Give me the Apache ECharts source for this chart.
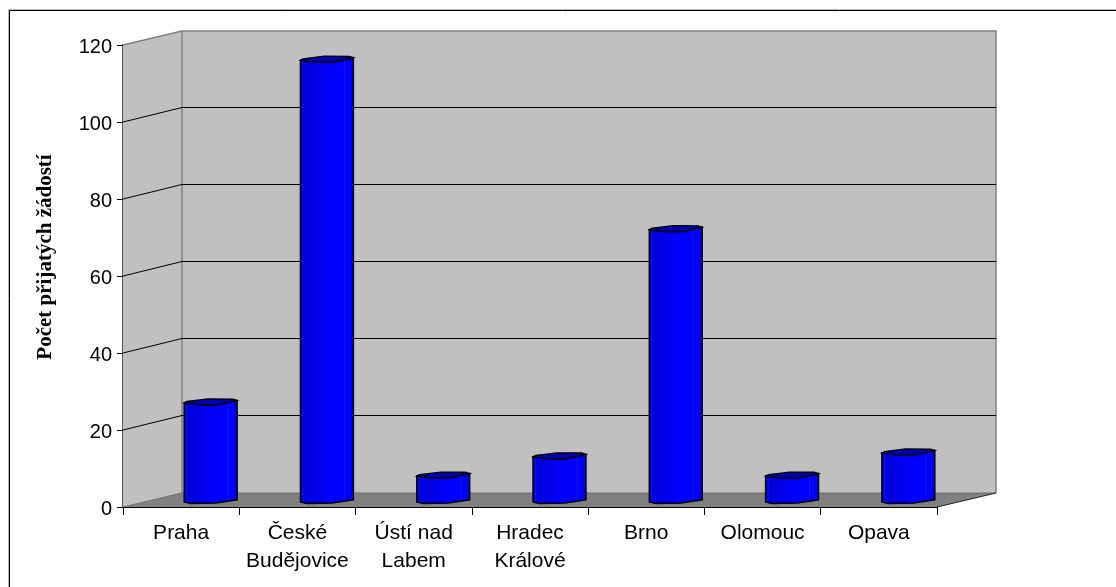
<!DOCTYPE html>
<html>
<head>
<meta charset="utf-8">
<style>html,body{margin:0;padding:0;background:#fff}#chart{width:1116px;height:587px}</style>
<script src="https://cdn.jsdelivr.net/npm/echarts@6/dist/echarts.min.js"></script>
</head>
<body>
<div id="chart"></div>
<script>
// Accepted applications per regional office
const categories = ['Praha', 'České\nBudějovice', 'Ústí nad\nLabem', 'Hradec\nKrálové', 'Brno', 'Olomouc', 'Opava'];
const applications = [26, 115, 7, 12, 71, 7, 13];
const yTicks = [0, 20, 40, 60, 80, 100, 120];
const axisTitle = 'Počet přijatých žádostí';

// Oblique projection used for the pseudo-3D box: how far the back wall shifts
const DEPTH_X = 59;
const DEPTH_Y = -14;
const BAR_RATIO = 0.455;
const BAR_SHIFT_Y = -5;

const chart = echarts.init(document.getElementById('chart'), null, {renderer: 'canvas'});

// Walls and floor of the box
function renderBox(params, api) {
  const cs = params.coordSys;
  const x0 = cs.x, x1 = cs.x + cs.width;
  const yBase = api.coord([0, 0])[1];
  const yTop = api.coord([0, 120])[1];
  return {type: 'group', children: [
    {type: 'polygon', shape: {points: [[x0 + DEPTH_X, yTop + DEPTH_Y], [x1 + DEPTH_X, yTop + DEPTH_Y], [x1 + DEPTH_X, yBase + DEPTH_Y], [x0 + DEPTH_X, yBase + DEPTH_Y]]}, style: {fill: '#c0c0c0'}},
    {type: 'polygon', shape: {points: [[x0, yTop], [x0 + DEPTH_X, yTop + DEPTH_Y], [x0 + DEPTH_X, yBase + DEPTH_Y], [x0, yBase]]}, style: {fill: '#c0c0c0'}},
    {type: 'polygon', shape: {points: [[x0, yBase], [x1, yBase], [x1 + DEPTH_X, yBase + DEPTH_Y], [x0 + DEPTH_X, yBase + DEPTH_Y]]}, style: {fill: '#808080'}},
    {type: 'polyline', shape: {points: [[x0, yTop], [x0 + DEPTH_X, yTop + DEPTH_Y], [x1 + DEPTH_X, yTop + DEPTH_Y], [x1 + DEPTH_X, yBase + DEPTH_Y]]}, style: {fill: 'none', stroke: '#808080', lineWidth: 1.5}},
    {type: 'line', shape: {x1: x0 + DEPTH_X, y1: yTop + DEPTH_Y, x2: x0 + DEPTH_X, y2: yBase + DEPTH_Y}, style: {stroke: '#808080', lineWidth: 1.5}},
    {type: 'polyline', shape: {points: [[x0, yBase], [x0 + DEPTH_X, yBase + DEPTH_Y], [x1 + DEPTH_X, yBase + DEPTH_Y]]}, style: {fill: 'none', stroke: '#6e6e6e', lineWidth: 1}},
    {type: 'line', shape: {x1: x1, y1: yBase, x2: x1 + DEPTH_X, y2: yBase + DEPTH_Y}, style: {stroke: '#222', lineWidth: 1}}
  ]};
}

// Gridline running along the side wall and across the back wall
function renderWallLine(params, api) {
  const cs = params.coordSys;
  const y = Math.round(api.coord([0, api.value(0)])[1]);
  const x0 = cs.x, x1 = cs.x + cs.width;
  return {
    type: 'polyline',
    shape: {points: [[x0, y], [x0 + DEPTH_X, y + DEPTH_Y - 0.5], [x1 + DEPTH_X, y + DEPTH_Y - 0.5]]},
    style: {fill: 'none', stroke: '#000', lineWidth: 1}
  };
}

// Cylinder standing half way into the box
function renderCylinder(params, api) {
  const cat = api.value(0);
  const val = api.value(1);
  const band = api.size([1, 0])[0];
  const cx = api.coord([cat, 0])[0] + DEPTH_X / 2;
  const w = band * BAR_RATIO;
  const l = cx - w / 2, r = cx + w / 2;
  const base = api.coord([cat, 0])[1] + BAR_SHIFT_Y;
  const top = api.coord([cat, val])[1] + BAR_SHIFT_Y;
  const frontTop = [[l, top + 1], [l + w * 0.25, top + 2.6], [l + w * 0.6, top + 3.2], [r, top - 1.5]];
  const backTop = [[r - w * 0.08, top - 2.8], [l + w * 0.45, top - 3], [l + w * 0.3, top - 2], [l + w * 0.05, top - 0.4]];
  const frontBase = [[r, base - 2.2], [l + w * 0.6, base + 1], [l + w * 0.12, base + 1.6], [l, base]];
  const body = frontTop.concat(frontBase);
  return {
    type: 'group',
    children: [
      {type: 'polygon', shape: {points: body}, style: {
        fill: new echarts.graphic.LinearGradient(0, 0, 1, 0, [
          {offset: 0, color: '#0000c8'}, {offset: 0.07, color: '#0000d8'}, {offset: 0.6, color: '#0000ff'}, {offset: 1, color: '#0000f4'}
        ]),
        stroke: '#000', lineWidth: 1.5}},
      {type: 'line', shape: {x1: l + 2.5, y1: top + 3, x2: l + 2.5, y2: base}, style: {stroke: '#2222ff', lineWidth: 1, opacity: 0.5}},
      {type: 'line', shape: {x1: r - 9, y1: top + 1, x2: r - 9, y2: base - 1}, style: {stroke: '#3030ff', lineWidth: 1, opacity: 0.4}},
      {type: 'polygon', shape: {points: frontTop.concat(backTop)}, style: {fill: '#0000b4', stroke: '#000', lineWidth: 1.3}}
    ]
  };
}

chart.setOption({
  animation: false,
  backgroundColor: '#fff',
  grid: {left: 123, width: 814, top: 45, height: 462, containLabel: false},
  xAxis: {
    type: 'category',
    data: categories,
    boundaryGap: true,
    axisLine: {show: true, lineStyle: {color: '#000', width: 1}},
    axisTick: {show: true, alignWithLabel: false, length: 8, lineStyle: {color: '#000'}},
    axisLabel: {color: '#000', fontFamily: 'Liberation Sans', fontSize: 21, lineHeight: 28, margin: 12, interval: 0},
    splitLine: {show: false}
  },
  yAxis: {
    type: 'value',
    min: 0, max: 120, interval: 20,
    name: axisTitle,
    nameLocation: 'middle',
    nameGap: 67,
    nameRotate: 90,
    nameTextStyle: {fontFamily: 'Liberation Serif', fontWeight: 'bold', fontSize: 21, color: '#000', padding: [0, 0, 0, 38]},
    axisLine: {show: true, lineStyle: {color: '#555', width: 2}},
    axisTick: {show: true, length: 6, lineStyle: {color: '#000'}},
    axisLabel: {
      margin: 11,
      formatter: v => '{t|' + v + '}',
      rich: {t: {color: '#000', fontFamily: 'Liberation Sans', fontSize: 20, padding: [4, 0, 0, 0]}}
    },
    splitLine: {show: false}
  },
  graphic: [
    {type: 'polyline', silent: true, z: 100, shape: {points: [[8.5, 587], [8.5, 9.5], [1116, 9.5]]}, style: {fill: 'none', stroke: '#b8b8b8', lineWidth: 1}},
    {type: 'polyline', silent: true, z: 100, shape: {points: [[9.5, 587], [9.5, 10.5], [1116, 10.5]]}, style: {fill: 'none', stroke: '#000', lineWidth: 1}}
  ],
  series: [
    {type: 'custom', renderItem: renderBox, data: [[0, 0]], z: 1, silent: true, clip: false, encode: {x: 0, y: 1}},
    {type: 'custom', renderItem: renderWallLine, data: yTicks.slice(1, -1).map(v => [v]), z: 2, silent: true, clip: false, encode: {y: 0}},
    {type: 'custom', renderItem: renderCylinder, data: applications.map((v, i) => [i, v]), z: 3, clip: false, encode: {x: 0, y: 1}}
  ]
});
</script>
</body>
</html>
